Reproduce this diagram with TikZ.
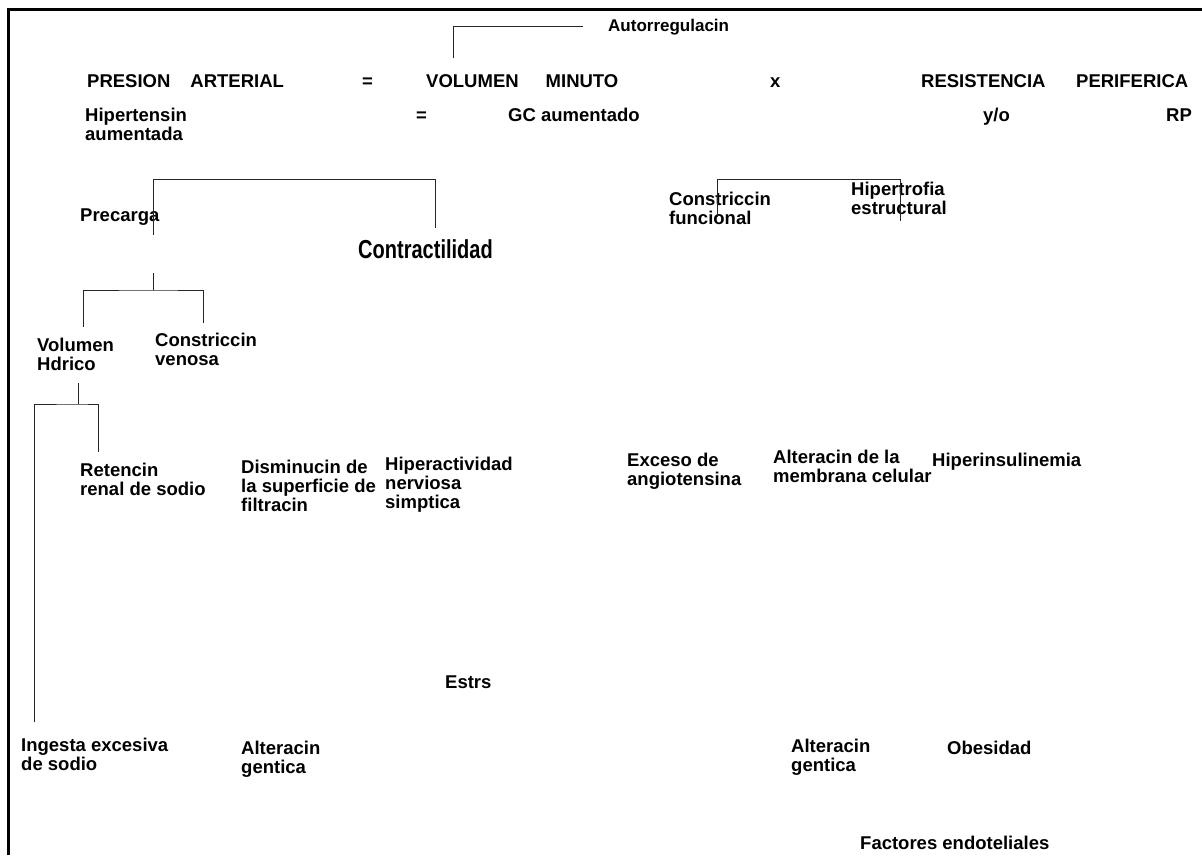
\documentclass[tikz,border=0pt]{standalone}
\usepackage{fontspec}
\setmainfont{Liberation Sans}
\newcommand{\mltwo}[2]{\vtop{\hbox{#1}\hbox{#2}}}
\newcommand{\mlthree}[3]{\vtop{\hbox{#1}\hbox{#2}\hbox{#3}}}
\begin{document}
\begin{tikzpicture}[x=1pt,y=-1pt,
  lbl/.style={font=\fontsize{18.5}{19}\selectfont\bfseries, inner sep=0pt, anchor=base west},
  small/.style={lbl, font=\fontsize{17}{18}\selectfont\bfseries},
  big/.style={font=\fontsize{26}{26}\selectfont\bfseries, inner sep=0pt, anchor=base west},
  conn/.style={draw=black!85, line width=1pt},
  frame/.style={draw=black, line width=3pt}]
\useasboundingbox (0,0) rectangle (1202,855);
\clip (0,0) rectangle (1202,855);
% frame
\draw[frame] (8.5,855) -- (8.5,9) -- (1202,9);

% top row
\node[small] (auto) at (608,31) {Autorregulacin};
\node[lbl] (pa) at (87,87) {PRESION\hspace{20pt}ARTERIAL};
\node[lbl] (eqa) at (362,87) {=};
\node[lbl] (vm) at (426,87) {VOLUMEN\hspace{27pt}MINUTO};
\node[lbl] (por) at (770,87) {x};
\node[lbl] (res) at (921,87) {RESISTENCIA};
\node[lbl] (per) at (1076,87) {PERIFERICA};

% second row
\node[lbl] (hip) at (85,121) {\mltwo{Hipertensin}{aumentada}};
\node[lbl] (eqb) at (416,121) {=};
\node[lbl] (gc) at (508,121) {GC aumentado};
\node[lbl] (yo) at (983,121) {y/o};
\node[lbl] (rp) at (1166,121) {RP};

% autorregulacion connector
\coordinate (autoA) at (583,26);
\coordinate (autoB) at (453,26);
\coordinate (autoC) at (453,58);
\draw[conn] (autoA) -- (autoB) -- (autoC);

% precarga / contractilidad
\node[lbl] (pre) at (80,221) {Precarga};
\node[big] (con) at (358,258) {\scalebox{0.77}[1]{Contractilidad}};
\coordinate (b1l) at (153,235);
\coordinate (b1r) at (435,228);
\draw[conn] (b1l) |- (435,179) -- (b1r);

% constriccion funcional / hipertrofia
\node[lbl] (cf) at (669,205) {\mltwo{Constriccin}{funcional}};
\node[lbl] (he) at (851,195) {\mltwo{Hipertrofia}{estructural}};
\coordinate (b3l) at (717,217);
\coordinate (b3r) at (900,221);
\draw[conn] (b3l) |- (900,179) -- (b3r);

% precarga subtree
\coordinate (b2t) at (153,273);
\coordinate (b2m) at (153,290);
\coordinate (b2l) at (83,327);
\coordinate (b2r) at (203,323);
\draw[conn] (b2t) -- (b2m);
\draw[conn] (b2l) |- (b2m) -| (b2r);
\node[lbl] (vh) at (37,351) {\mltwo{Volumen}{Hdrico}};
\node[lbl] (cv) at (155,346) {\mltwo{Constriccin}{venosa}};

% volumen hidrico subtree
\coordinate (b4t) at (78,383);
\coordinate (b4m) at (78,404);
\coordinate (b4l) at (34,722);
\coordinate (b4r) at (98,452);
\draw[conn] (b4t) -- (b4m);
\draw[conn] (b4l) |- (b4m) -| (b4r);

% causes row
\node[lbl] (ret) at (80,476) {\mltwo{Retencin}{renal de sodio}};
\node[lbl] (dis) at (241,473) {\mlthree{Disminucin de}{la superficie de}{filtracin}};
\node[lbl] (hna) at (385,470) {\mlthree{Hiperactividad}{nerviosa}{simptica}};
\node[lbl] (exa) at (627,466) {\mltwo{Exceso de}{angiotensina}};
\node[lbl] (amc) at (773,463) {\mltwo{Alteracin de la}{membrana celular}};
\node[lbl] (hin) at (932,466) {Hiperinsulinemia};

% lower row
\node[lbl] (est) at (445,688) {Estrs};
\node[lbl] (ing) at (21,751) {\mltwo{Ingesta excesiva}{de sodio}};
\node[lbl] (ag1) at (241,754) {\mltwo{Alteracin}{gentica}};
\node[lbl] (ag2) at (791,752) {\mltwo{Alteracin}{gentica}};
\node[lbl] (obe) at (947,754) {Obesidad};
\node[lbl] (fen) at (860,849) {Factores endoteliales};
\end{tikzpicture}
\end{document}
